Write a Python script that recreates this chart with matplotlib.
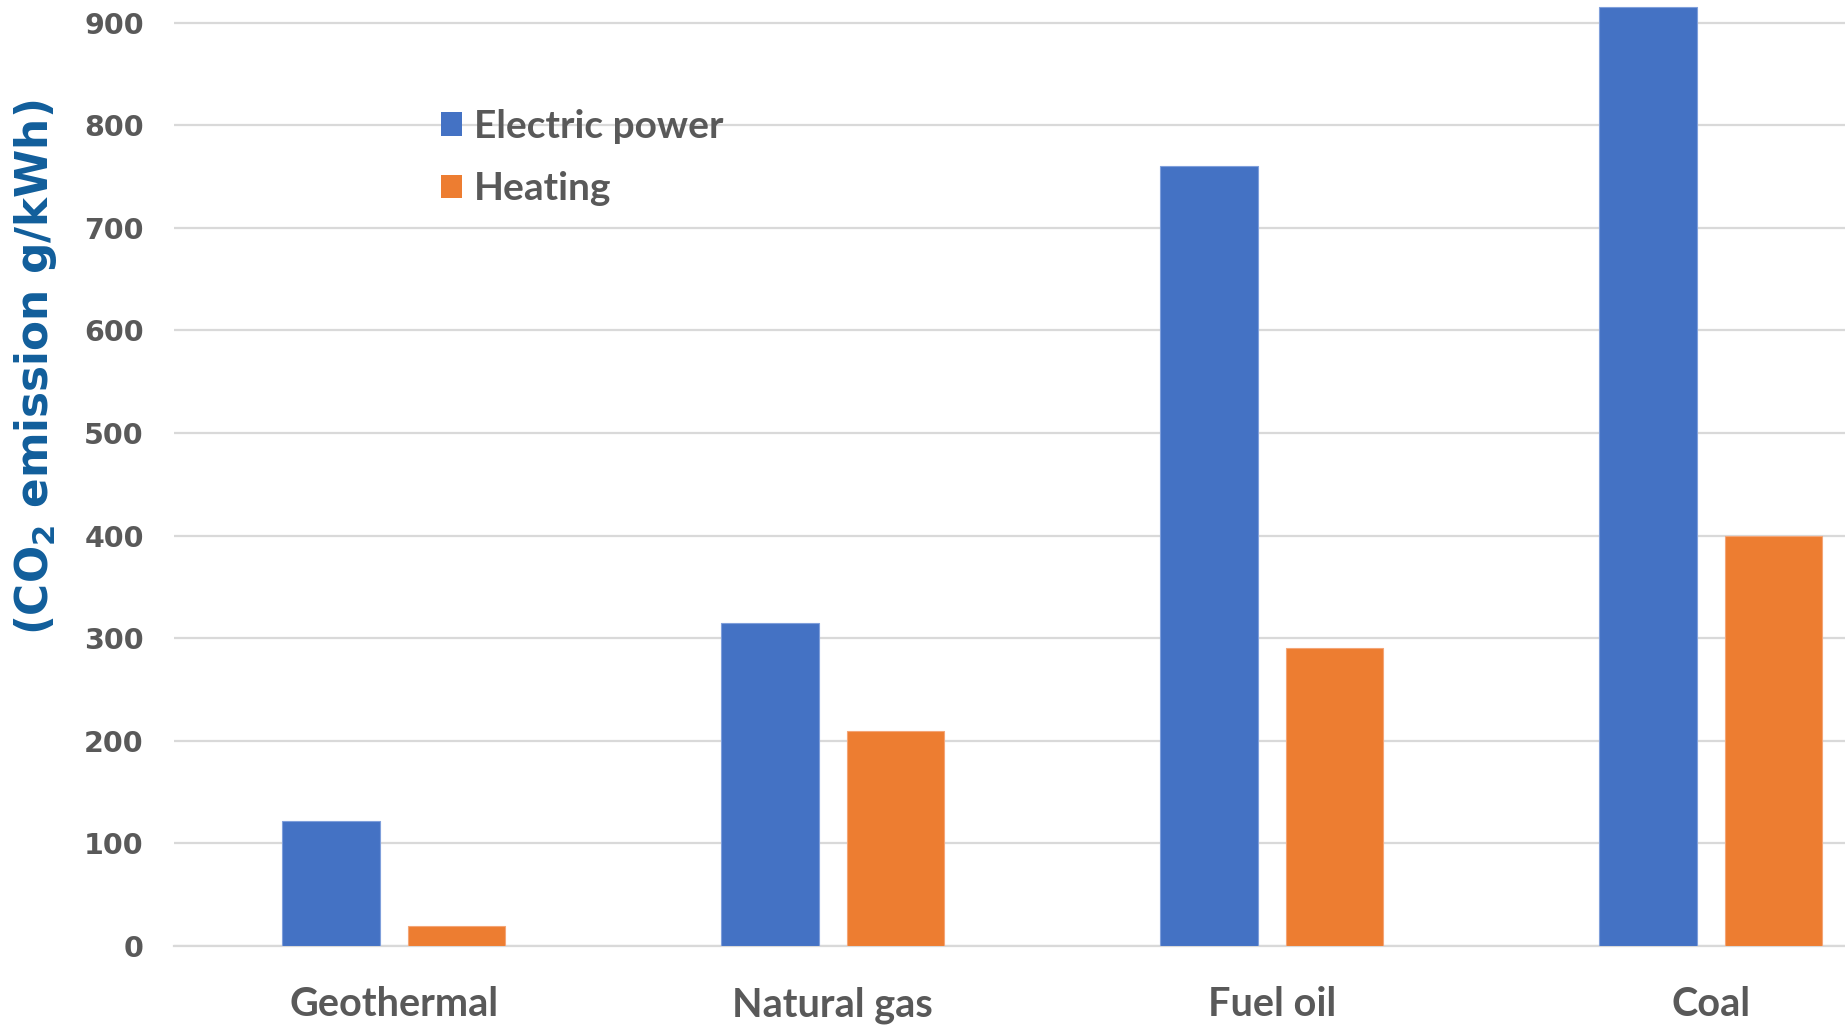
import matplotlib
matplotlib.use("Agg")
import matplotlib.pyplot as plt
from matplotlib.patches import Patch
import numpy as np

# Emission factors by fuel
categories = ["Geothermal", "Natural gas", "Fuel oil", "Coal"]
electric_power = [122, 315, 760, 915]
heating = [19, 210, 290, 400]
series_names = ["Electric power", "Heating"]
y_ticks = [0, 100, 200, 300, 400, 500, 600, 700, 800, 900]

BLUE = "#4472C4"
ORANGE = "#ED7D31"
GRID = "#D9D9D9"
TEXT = "#595959"
LABEL_BLUE = "#115E9B"

fig = plt.figure(figsize=(18.45, 10.26), dpi=100)
ax = fig.add_axes([0.0945, 0.078, 0.9055, 0.922])

x = np.arange(len(categories))
width = 0.222
offset = 0.143
ax.bar(x - offset, electric_power, width, color=BLUE, edgecolor="#7F9FDB",
       linewidth=0.8, zorder=3)
ax.bar(x + offset, heating, width, color=ORANGE, edgecolor="#F4A577",
       linewidth=0.8, zorder=3)

ax.set_xlim(-0.5, 3.306)
ax.set_ylim(0, 922)

ax.set_yticks(y_ticks)
ax.set_yticklabels([str(v) for v in y_ticks], fontfamily="DejaVu Sans",
                   fontweight="bold", fontsize=20.5, color=TEXT)
ax.set_xticks(x)
ax.set_xticklabels(categories, fontfamily="Lato", fontweight="bold",
                   fontsize=28.5, color=TEXT)
ax.tick_params(axis="y", length=0, pad=22)
ax.tick_params(axis="x", length=0, pad=29)

ax.yaxis.grid(True, color=GRID, linewidth=1.6, zorder=0)
ax.set_axisbelow(True)
for side in ["top", "right", "left"]:
    ax.spines[side].set_visible(False)
ax.spines["bottom"].set_color(GRID)
ax.spines["bottom"].set_linewidth(1.6)

fig.text(0.019, 0.642, r"(CO$_\mathbf{2}$ emission g/kWh)", rotation=90,
         ha="center", va="center", fontfamily="DejaVu Sans",
         fontweight="bold", fontsize=31.5, color=LABEL_BLUE)

handles = [Patch(facecolor=BLUE, edgecolor="none"),
           Patch(facecolor=ORANGE, edgecolor="none")]
ax.legend(handles, series_names, loc="upper left",
          bbox_to_anchor=(0.239, 0.894), bbox_transform=fig.transFigure,
          frameon=False, prop={"family": "Lato", "weight": "bold", "size": 28},
          labelcolor=TEXT, handlelength=0.54, handleheight=0.54,
          handletextpad=0.3, labelspacing=0.70, borderaxespad=0,
          borderpad=0)

fig.savefig("out.png", dpi=100, facecolor="white")
